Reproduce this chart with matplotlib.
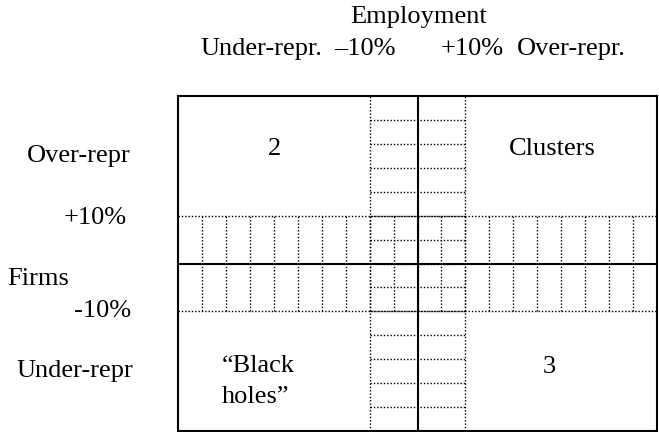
import matplotlib
matplotlib.use("Agg")
import matplotlib.pyplot as plt

# ---- data ----
col_title = "Employment"
col_labels = ["Under-repr.", "\u201310%", "+10%", "Over-repr."]
row_labels = ["Over-repr", "+10%", "Firms", "-10%", "Under-repr"]
quadrant_labels = ["2", "Clusters", "\u201cBlack", "holes\u201d", "3"]
band_edges = [-2, 2]                  # the -10% / +10% thresholds (grid cells)
x_limits = [-10, 10]
y_limits = [-7, 7]
hatch_x = [-9, -8, -7, -6, -5, -4, -3, -2, -1, 0, 1, 2, 3, 4, 5, 6, 7, 8, 9]
hatch_y = [-6, -5, -4, -3, -2, -1, 0, 1, 2, 3, 4, 5, 6]

W, H = 659, 432
fig = plt.figure(figsize=(W / 100, H / 100), dpi=100)
plt.rcParams['font.family'] = ['Liberation Serif', 'DejaVu Serif']
FS = 19

left, right, top, bottom = 178, 657, 96, 431
ax = fig.add_axes([left / W, 1 - bottom / H, (right - left) / W, (bottom - top) / H])
ax.set_xlim(*x_limits)
ax.set_ylim(*y_limits)
ax.set_xticks([])
ax.set_yticks([])
for s in ax.spines.values():
    s.set_linewidth(1.5)
    s.set_color('black')

dot = dict(color='black', lw=1.0, linestyle=(0, (1, 1.4)))
lo, hi = band_edges
# horizontal band: vertical hatch lines
for x in hatch_x:
    ax.plot([x, x], [lo, hi], **dot)
# vertical band: horizontal hatch lines
for y in hatch_y:
    ax.plot([lo, hi], [y, y], **dot)
# band boundaries
for e in band_edges:
    ax.plot(x_limits, [e, e], **dot)
    ax.plot([e, e], y_limits, **dot)
# centre cross
ax.axhline(0, color='black', lw=1.5)
ax.axvline(0, color='black', lw=1.5)


def ptext(x, y, s, ha='left', **kw):
    fig.text(x / W, 1 - y / H, s, ha=ha, va='baseline', fontsize=FS, **kw)


# column header
ptext(419, 22.7, col_title, ha='center')
ptext(200, 55, col_labels[0])
ptext(334, 55, col_labels[1])
ptext(441, 55, col_labels[2])
ptext(517, 55, col_labels[3])

# row labels
ptext(26.7, 162, row_labels[0])
ptext(64, 224, row_labels[1])
ptext(7.3, 285, row_labels[2])
ptext(74, 316.7, row_labels[3])
ptext(16, 377, row_labels[4])

# quadrant labels
ptext(274.7, 155, quadrant_labels[0], ha='center')
ptext(552.5, 155, quadrant_labels[1], ha='center')
ptext(221.7, 371.7, quadrant_labels[2])
ptext(221.7, 402.7, quadrant_labels[3])
ptext(549.7, 372.7, quadrant_labels[4], ha='center')

fig.savefig("out.png", dpi=100)
